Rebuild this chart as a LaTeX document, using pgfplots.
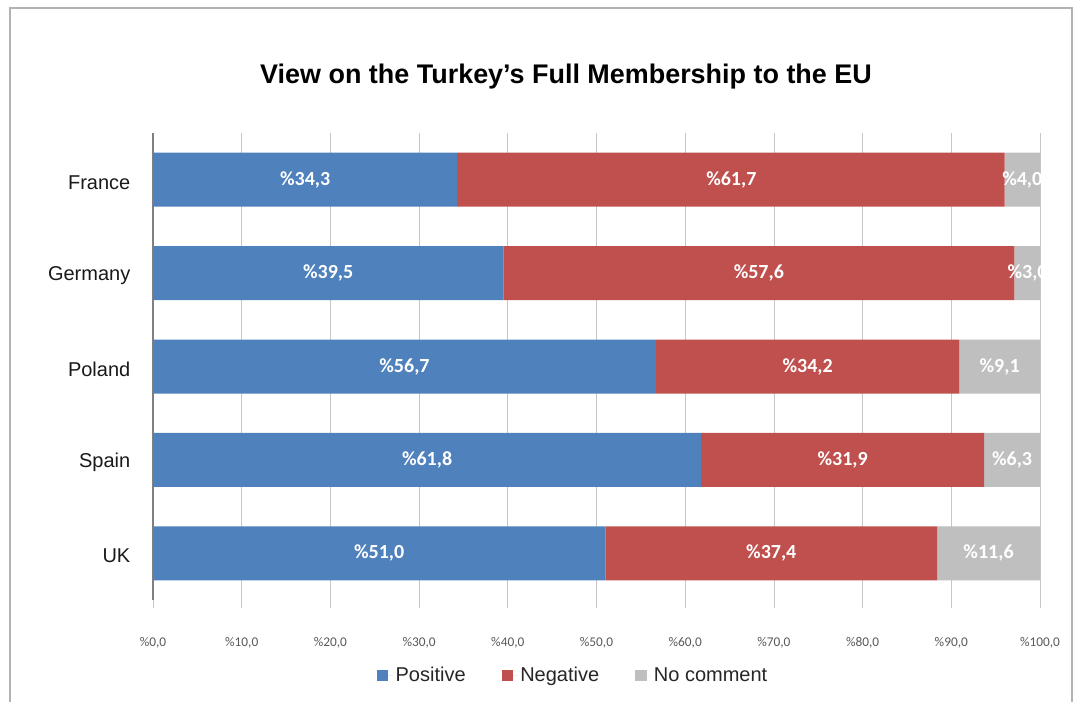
\documentclass[border=0pt]{standalone}
\usepackage{pgfplots}
\usepackage{pgfplotstable}
\pgfplotsset{compat=1.18}
\usepackage{fontspec}
\setmainfont{Liberation Sans}
\newfontfamily\carlito{Carlito}
\definecolor{cpos}{HTML}{4F81BD}
\definecolor{cneg}{HTML}{C0504D}
\definecolor{cnoc}{HTML}{BFBFBF}

\pgfplotstableread{
y pos neg noc
0 51.0 37.4 11.6
1 61.8 31.9 6.3
2 56.7 34.2 9.1
3 39.5 57.6 3.0
4 34.3 61.7 4.0
}\datatable

\pgfplotstableread{
y xm v
0 25.5 51.0
0 69.7 37.4
0 94.2 11.6
1 30.9 61.8
1 77.75 31.9
1 96.85 6.3
2 28.35 56.7
2 73.8 34.2
2 95.45 9.1
3 19.75 39.5
3 68.3 57.6
3 98.6 3.0
4 17.15 34.3
4 65.2 61.7
4 98.0 4.0
}\labeltable

\begin{document}
\begin{tikzpicture}
\begin{scope}[x=0.75pt,y=-0.75pt]
\path[use as bounding box] (0,0) rectangle (1077,702);
\draw[black!30, line width=1.2pt] (10,702) -- (10,8) -- (1072,8) -- (1072,702);
\node[anchor=base, font=\bfseries\fontsize{20.2}{24}\selectfont] at (566,84) {View on the Turkey's Full Membership to the EU};
\end{scope}
\begin{axis}[
  at={(153*0.75pt,-600*0.75pt)}, anchor=south west,
  scale only axis, width=887*0.75pt, height=467*0.75pt,
  xbar stacked, bar width=40.5pt,
  xmin=0, xmax=100, ymin=-0.5, ymax=4.5,
  xtick={0,10,...,100},
  xticklabels={{\%0,0},{\%10,0},{\%20,0},{\%30,0},{\%40,0},{\%50,0},{\%60,0},{\%70,0},{\%80,0},{\%90,0},{\%100,0}},
  ytick={0,1,2,3,4},
  yticklabels={UK,Spain,Poland,Germany,France},
  axis x line*=bottom, axis y line*=left,
  x axis line style={draw=none},
  y axis line style={draw=black!50, line width=0.8pt},
  xmajorgrids, major grid style={black!22, line width=0.6pt},
  tick align=outside, major tick length=6pt,
  xtick style={draw=black!22, line width=0.6pt},
  ytick style={draw=none},
  xticklabel style={font=\carlito\fontsize{10}{12}\selectfont, text=black!65, anchor=center, yshift=-26pt},
  yticklabel style={font=\fontsize{15}{18}\selectfont, text=black!90, xshift=-7.5pt, yshift=-2pt},
  legend columns=3,
  legend style={at={(0.474,-0.162)}, anchor=center, draw=none, fill=none,
    font=\fontsize{15}{18}\selectfont, text=black!85,
    /tikz/every even column/.append style={column sep=25pt}},
  legend image code/.code={\fill[#1] (0pt,-4.2pt) rectangle (8.5pt,4.2pt); \path (0pt,0pt) -- (12pt,0pt);},
]
\addplot[fill=cpos, draw=none] table[x=pos, y=y] {\datatable};
\addlegendentry{Positive}
\addplot[fill=cneg, draw=none] table[x=neg, y=y] {\datatable};
\addlegendentry{Negative}
\addplot[fill=cnoc, draw=none] table[x=noc, y=y] {\datatable};
\addlegendentry{No comment}
\end{axis}
\begin{axis}[
  at={(153*0.75pt,-600*0.75pt)}, anchor=south west,
  scale only axis, width=887*0.75pt, height=467*0.75pt,
  xmin=0, xmax=100, ymin=-0.5, ymax=4.5,
  hide axis, clip=true,
]
\addplot[draw=none, mark=none, point meta=explicit,
  nodes near coords={\%\pgfmathprintnumber[fixed,fixed zerofill,precision=1,use comma,assume math mode=true]{\pgfplotspointmeta}},
  every node near coord/.append style={anchor=center, text=white, font=\carlito\bfseries\fontsize{15}{18}\selectfont}]
  table[x=xm, y=y, meta=v] {\labeltable};
\end{axis}
\end{tikzpicture}
\end{document}
